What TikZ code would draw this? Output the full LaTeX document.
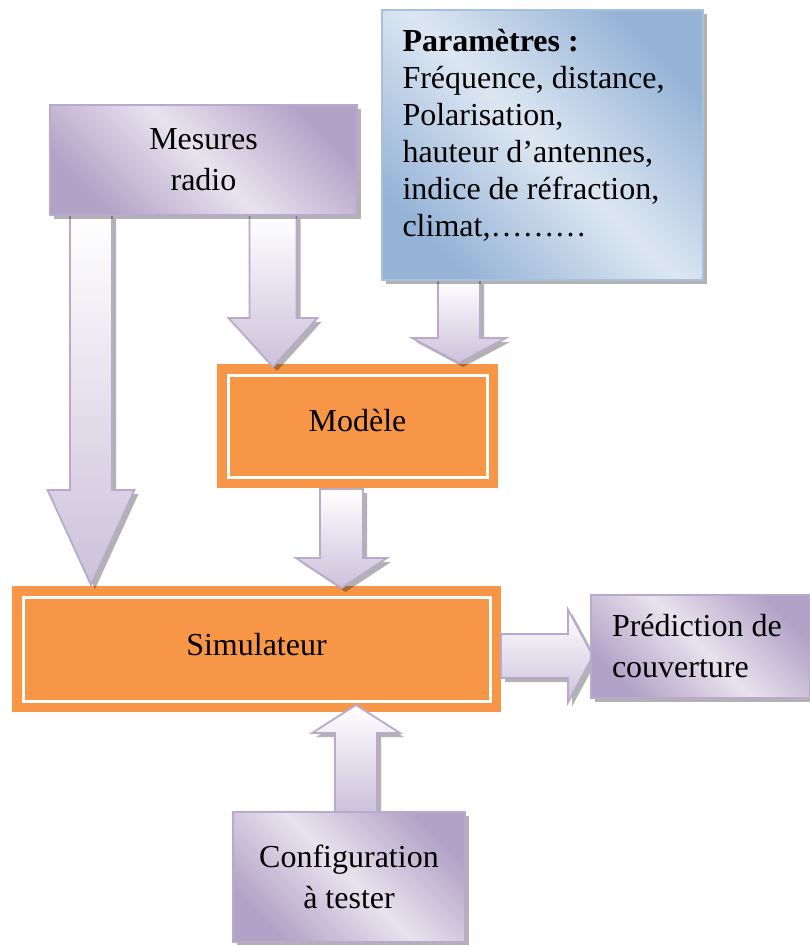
\documentclass[tikz,border=0pt]{standalone}
\usepackage{fontspec}
\setmainfont{Liberation Serif}
\usetikzlibrary{calc,shadows}

\definecolor{orng}{HTML}{F79646}
\definecolor{lavdark}{HTML}{B3A2C7}
\definecolor{lavlight}{HTML}{E8E3EE}
\definecolor{lavedge}{HTML}{B9AACD}
\definecolor{bluedark}{HTML}{95B3D7}
\definecolor{bluelight}{HTML}{DDE7F2}
\definecolor{blueedge}{HTML}{A9C0DD}
\definecolor{arrowfill}{HTML}{CCC1DA}

\pgfdeclarelayer{background}
\pgfsetlayers{background,main}

\tikzset{
  x=1pt, y=-1pt,
  boxshadow/.style={drop shadow={shadow xshift=4pt, shadow yshift=-4pt,
      fill=black, opacity=0.3}},
  lavbox/.style={rectangle, draw=lavedge, line width=1.5pt,
      top color=lavdark, bottom color=lavdark, middle color=lavlight,
      shading angle=-45, boxshadow, align=center, inner sep=0pt, outer sep=0pt,
      font=\fontsize{32}{41}\selectfont},
  bluebox/.style={rectangle, draw=blueedge, line width=1.5pt,
      top color=bluedark, bottom color=bluedark, middle color=bluelight,
      shading angle=-45, boxshadow, inner sep=0pt, outer sep=0pt,
      font=\fontsize{32}{37}\selectfont},
  orbox/.style={rectangle, fill=orng, draw=white, line width=3pt,
      preaction={draw=orng, line width=22pt}, inner sep=0pt, outer sep=0pt,
      font=\fontsize{32}{41}\selectfont},
  flowarrow/.style={draw=lavedge, line width=1.8pt, line join=miter,
      top color=white, bottom color=arrowfill, boxshadow},
}

% block arrow: #1 tail, #2 tip, #3 half shaft width, #4 half head width, #5 head length
\newcommand{\flowarrowpath}[5]{%
  \path[flowarrow]
    ($(#1)!#3!-90:(#2)$) -- ($(#2)!#5!(#1)!#3!-90:(#2)$)
    -- ($(#2)!#5!(#1)!#4!-90:(#2)$) -- (#2)
    -- ($(#2)!#5!(#1)!#4!90:(#2)$) -- ($(#2)!#5!(#1)!#3!90:(#2)$)
    -- ($(#1)!#3!90:(#2)$) -- cycle;
}

\begin{document}
\begin{tikzpicture}
  \useasboundingbox (0,0) rectangle (810,945);

  % orange processing blocks
  \begin{pgfonlayer}{background}
    \node[orbox, minimum width=259pt, minimum height=102pt] (mod) at (357.5,426)
      {\raisebox{12pt}{Modèle}};
    \node[orbox, minimum width=467pt, minimum height=104pt] (sim) at (256.5,649)
      {\raisebox{9pt}{Simulateur}};
  \end{pgfonlayer}

  % input and output blocks
  \node[lavbox, minimum width=307pt, minimum height=110pt] (mes) at (203.5,160)
    {Mesures\\radio};
  \node[bluebox, minimum width=321pt, minimum height=270pt] (par) at (542.5,145)
    {\parbox[t][232pt][t]{280pt}{\raggedright
      \textbf{Paramètres :}\\
      Fréquence, distance,\\
      Polarisation,\\
      hauteur d’antennes,\\
      indice de réfraction,\\
      climat,………}};
  \node[lavbox, anchor=west, align=flush left, text width=177pt, inner xsep=21pt,
        minimum height=103pt] (pred) at (591,646.5)
    {Prédiction de\\couverture};
  \node[lavbox, minimum width=232pt, minimum height=130pt] (cfg) at (349,877)
    {Configuration\\à tester};

  % arrow end points
  \coordinate (a1s) at ($(mes.south west)+(41,0)$);
  \coordinate (a1t) at ($(a1s |- sim.north)+(0,-12)$);
  \coordinate (a2s) at ($(mes.south west)+(223,0)$);
  \coordinate (a2t) at ($(a2s |- mod.north)+(0,-8)$);
  \coordinate (a3s) at ($(par.south west)+(77,0)$);
  \coordinate (a3t) at ($(a3s |- mod.north)+(0,-12)$);
  \coordinate (a4s) at ($(mod.south west)+(113.5,12)$);
  \coordinate (a4t) at ($(a4s |- sim.north)+(0,-9)$);
  \coordinate (a5s) at ($(sim.east)+(11,7)$);
  \coordinate (a5t) at ($(a5s -| pred.west)+(2,0)$);
  \coordinate (a6s) at ($(cfg.north)+(7,1)$);
  \coordinate (a6t) at ($(a6s |- sim.south)+(0,4)$);

  % block arrows
  \begin{pgfonlayer}{background}
    \flowarrowpath{a1s}{a1t}{21pt}{43.5pt}{95pt}
    \flowarrowpath{a2s}{a2t}{23.5pt}{44.5pt}{49pt}
    \flowarrowpath{a3s}{a3t}{21pt}{47pt}{25pt}
    \flowarrowpath{a4s}{a4t}{21.5pt}{45.5pt}{30pt}
    \flowarrowpath{a5s}{a5t}{22pt}{46.5pt}{25pt}
    \flowarrowpath{a6s}{a6t}{21pt}{44pt}{28pt}
  \end{pgfonlayer}
\end{tikzpicture}
\end{document}
